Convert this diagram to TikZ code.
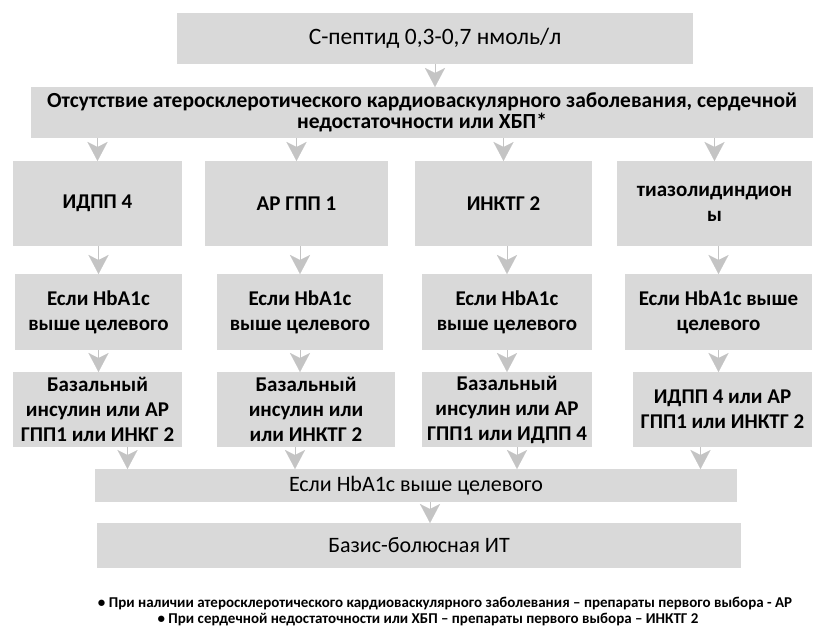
\documentclass[tikz,border=0pt]{standalone}
\usepackage{fontspec}
\setmainfont{Carlito}
\usetikzlibrary{arrows.meta,positioning}
\definecolor{boxgray}{RGB}{217,217,217}
\definecolor{arrgray}{RGB}{196,196,196}
\newcommand{\rowfont}{\fontsize{21}{25}\selectfont\bfseries}

\begin{document}
\begin{tikzpicture}[
        x=1pt, y=-1pt,
        every node/.style={inner sep=0pt, outer sep=0pt},
        box/.style={fill=boxgray, align=center, font=\rowfont},
        arr/.style={-{Stealth[length=19pt, width=20pt, inset=5pt]}, draw=arrgray, fill=arrgray, line width=0.1pt}
    ]
    \useasboundingbox (0,0) rectangle (815,629);

    % Top
    \node (P) [box, minimum width=516, minimum height=51, font=\fontsize{23.5}{28}\selectfont] at (435,38.5) {С-пептид 0,3-0,7 нмоль/л};
    \node (S) [box, minimum width=782, minimum height=51, yshift=-5, font=\fontsize{21.5}{21}\selectfont\bfseries] at (422,107.5) {Отсутствие атеросклеротического кардиоваскулярного заболевания, сердечной\\недостаточности или ХБП*};

    % Layer A
    \node (A1) [box, minimum width=169, minimum height=85] at (97.5,203.5) {ИДПП 4};
    \node (A2) [box, minimum width=183, minimum height=85] at (296.5,203.5) {АР ГПП 1};
    \node (A3) [box, minimum width=177, minimum height=85] at (503.5,203.5) {ИНКТГ 2};
    \node (A4) [box, minimum width=195, minimum height=85] at (714.5,203.5) {тиазолидиндион\\ы};

    % Layer B
    \node (B1) [box, minimum width=167, minimum height=76] at (98.5,312) {Если HbA1c\\выше целевого};
    \node (B2) [box, minimum width=166, minimum height=76] at (300,312) {Если HbA1c\\выше целевого};
    \node (B3) [box, minimum width=170, minimum height=76] at (507,312) {Если HbA1c\\выше целевого};
    \node (B4) [box, minimum width=187, minimum height=76] at (718.5,312) {Если HbA1c выше\\целевого};

    % Layer C
    \node (C1) [box, minimum width=169, minimum height=75] at (97.5,409.5) {Базальный\\инсулин или АР\\ГПП1 или ИНКГ 2};
    \node (C2) [box, minimum width=178, minimum height=75] at (306,409.5) {Базальный\\инсулин или\\или ИНКТГ 2};
    \node (C3) [box, minimum width=170, minimum height=75] at (507,409.5) {Базальный\\инсулин или АР\\ГПП1 или ИДПП 4};
    \node (C4) [box, minimum width=179, minimum height=75] at (722.5,409.5) {ИДПП 4 или АР\\ГПП1 или ИНКТГ 2};

    % Bottom
    \node (W) [box, minimum width=642, minimum height=33, font=\fontsize{22}{26}\selectfont] at (416,485.5) {Если HbA1c выше целевого};
    \node (T) [box, minimum width=644, minimum height=45, font=\fontsize{22}{26}\selectfont] at (419,545.5) {Базис-болюсная ИТ};

    % Arrows
    \draw[arr] (P.south) -- (P.south |- S.north);
    \foreach \i in {1,...,4} {
        \draw[arr] (S.south -| A\i.north) -- (A\i.north);
        \draw[arr] (A\i.south -| B\i.north) -- (B\i.north);
        \draw[arr] (B\i.south) -- (B\i.south |- C\i.north);
    }
    \draw[arr] ([xshift=30]C1.south) -- ([xshift=30]C1.south |- W.north);
    \draw[arr] ([xshift=-11]C2.south) -- ([xshift=-11]C2.south |- W.north);
    \draw[arr] ([xshift=10]C3.south) -- ([xshift=10]C3.south |- W.north);
    \draw[arr] ([xshift=-22]C4.south) -- ([xshift=-22]C4.south |- W.north);
    \draw[arr] ([xshift=14]W.south) -- ([xshift=14]W.south |- T.north);

    % Notes
    \node (N1) [font=\fontsize{15}{17}\selectfont\bfseries] at (445,604) {• При наличии атеросклеротического кардиоваскулярного заболевания – препараты первого выбора - АР};
    \node (N2) [font=\fontsize{15}{17}\selectfont\bfseries] at (428,620) {• При сердечной недостаточности или ХБП – препараты первого выбора – ИНКТГ 2};

\end{tikzpicture}
\end{document}
